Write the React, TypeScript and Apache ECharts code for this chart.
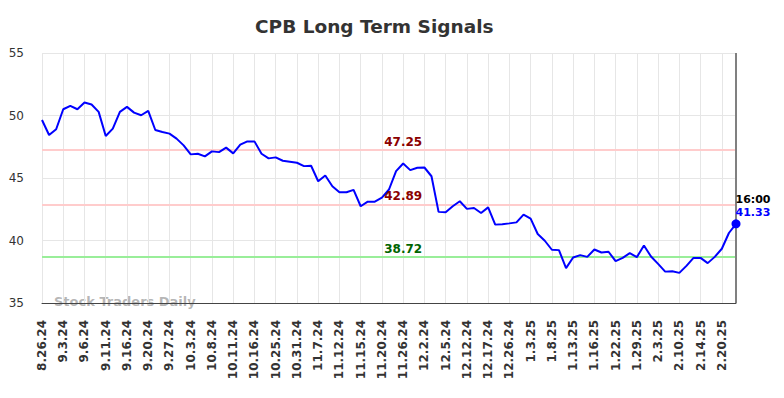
import React, { useEffect, useRef } from "react";
import * as echarts from "echarts";

const tickLabels = [
  "8.26.24", "9.3.24", "9.6.24", "9.11.24", "9.16.24", "9.20.24", "9.27.24", "10.3.24",
  "10.8.24", "10.11.24", "10.16.24", "10.25.24", "10.31.24", "11.7.24", "11.12.24", "11.15.24",
  "11.20.24", "11.26.24", "12.2.24", "12.5.24", "12.12.24", "12.17.24", "12.26.24", "1.3.25",
  "1.8.25", "1.13.25", "1.16.25", "1.22.25", "1.29.25", "2.3.25", "2.10.25", "2.14.25", "2.20.25",
];
const tickEvery = 3;

const prices = [
  49.64, 48.44, 48.9, 50.5, 50.77, 50.5, 51.04, 50.88, 50.29, 48.36,
  48.95, 50.29, 50.69, 50.23, 50.02, 50.37, 48.84, 48.68, 48.55, 48.15,
  47.61, 46.89, 46.94, 46.73, 47.13, 47.07, 47.43, 46.97, 47.67, 47.93,
  47.93, 46.94, 46.57, 46.65, 46.38, 46.3, 46.22, 45.95, 45.98, 44.74,
  45.2, 44.34, 43.86, 43.86, 44.05, 42.74, 43.11, 43.11, 43.43, 44.08,
  45.55, 46.16, 45.63, 45.82, 45.84, 45.14, 42.29, 42.26, 42.74, 43.14,
  42.53, 42.6, 42.2, 42.65, 41.27, 41.3, 41.37, 41.45, 42.07, 41.75,
  40.52, 39.98, 39.26, 39.23, 37.79, 38.64, 38.83, 38.69, 39.28, 39.04,
  39.1, 38.35, 38.61, 38.99, 38.67, 39.6, 38.72, 38.13, 37.51, 37.54,
  37.41, 37.97, 38.61, 38.61, 38.19, 38.69, 39.34, 40.6, 41.33,
];

const resistanceLevels = [47.25, 42.89];
const supportLevels = [38.72];
const lastTime = "16:00";
const levelLabelIndex = 50.5;

const categories = prices.map((_, i) => String(i));

export default function App() {
  const ref = useRef<HTMLDivElement>(null);
  useEffect(() => {
    if (!ref.current) return;
    const chart = echarts.init(ref.current, null, { renderer: "svg" });
    const lastIdx = prices.length - 1;
    const lastVal = prices[lastIdx];
    const levelLines = [
      ...resistanceLevels.map((v) => ({ yAxis: v, lineStyle: { color: "#ffcccc", width: 2, type: "solid" } })),
      ...supportLevels.map((v) => ({ yAxis: v, lineStyle: { color: "#99ee99", width: 2, type: "solid" } })),
    ];
    const levelLabels = [
      ...resistanceLevels.map((v) => ({ coord: [levelLabelIndex, v], value: v.toFixed(2), label: { color: "#8b0000" } })),
      ...supportLevels.map((v) => ({ coord: [levelLabelIndex, v], value: v.toFixed(2), label: { color: "#006400" } })),
    ];
    chart.setOption({
      animation: false,
      backgroundColor: "#ffffff",
      title: {
        text: "CPB Long Term Signals",
        left: 250,
        top: 12,
        textStyle: { fontFamily: "DejaVu Sans", fontSize: 18.5, fontWeight: "bold", color: "#333333" },
      },
      graphic: [
        {
          type: "text",
          left: 54,
          top: 295,
          z: 0,
          style: {
            text: "Stock Traders Daily",
            fontFamily: "DejaVu Sans",
            fontSize: 13,
            fontWeight: "bold",
            fill: "rgba(150,150,150,0.7)",
          },
        },
      ],
      grid: { left: 42, right: 48, top: 53, bottom: 95, containLabel: false },
      xAxis: {
        type: "category",
        data: categories,
        boundaryGap: false,
        axisLine: { show: true, lineStyle: { color: "#444444", width: 1 } },
        axisTick: { show: false },
        axisLabel: {
          interval: tickEvery - 1,
          rotate: 90,
          margin: 17,
          fontFamily: "DejaVu Sans",
          fontSize: 12,
          fontWeight: "bold",
          color: "#333333",
          formatter: (v: string) => {
            const i = Number(v);
            return i % tickEvery === 0 ? tickLabels[i / tickEvery] ?? "" : "";
          },
        },
        splitLine: { show: true, interval: tickEvery - 1, lineStyle: { color: "#e6e6e6", width: 1 } },
      },
      yAxis: {
        type: "value",
        min: 35,
        max: 55,
        interval: 5,
        axisLine: { show: false },
        axisTick: { show: false },
        axisLabel: { margin: 18, fontFamily: "DejaVu Sans", fontSize: 12, color: "#333333" },
        splitLine: { show: true, lineStyle: { color: "#e6e6e6", width: 1 } },
      },
      series: [
        {
          type: "line",
          data: prices,
          showSymbol: false,
          lineStyle: { color: "#0000ff", width: 2 },
          itemStyle: { color: "#0000ff" },
          z: 5,
          markLine: {
            silent: true,
            symbol: "none",
            label: { show: false },
            data: [
              ...levelLines,
              { xAxis: String(lastIdx), lineStyle: { color: "#808080", width: 2, type: "solid" } },
            ],
            z: 3,
          },
          markPoint: {
            silent: true,
            data: [
              ...levelLabels.map((d) => ({
                coord: d.coord,
                value: d.value,
                symbol: "circle",
                symbolSize: 1,
                itemStyle: { color: "rgba(0,0,0,0)" },
                label: {
                  show: true,
                  position: "inside",
                  offset: [0, -8],
                  formatter: d.value,
                  fontFamily: "DejaVu Sans",
                  fontSize: 12,
                  fontWeight: "bold",
                  color: d.label.color,
                },
              })),
              {
                coord: [lastIdx, lastVal],
                value: lastVal,
                symbol: "circle",
                symbolSize: 9,
                itemStyle: { color: "#0000ff" },
                label: {
                  show: true,
                  position: [4, -26],
                  align: "left",
                  verticalAlign: "top",
                  formatter: `{t|${lastTime}}\n{v|${lastVal.toFixed(2)}}`,
                  rich: {
                    t: { fontFamily: "DejaVu Sans", fontSize: 11, fontWeight: "bold", color: "#000000", lineHeight: 13 },
                    v: { fontFamily: "DejaVu Sans", fontSize: 11, fontWeight: "bold", color: "#0000ff", lineHeight: 13 },
                  },
                },
              },
            ],
            z: 6,
          },
        },
      ],
    });
    return () => chart.dispose();
  }, []);
  return <div ref={ref} style={{ position: "fixed", left: 0, top: 0, width: 784, height: 398 }} />;
}
